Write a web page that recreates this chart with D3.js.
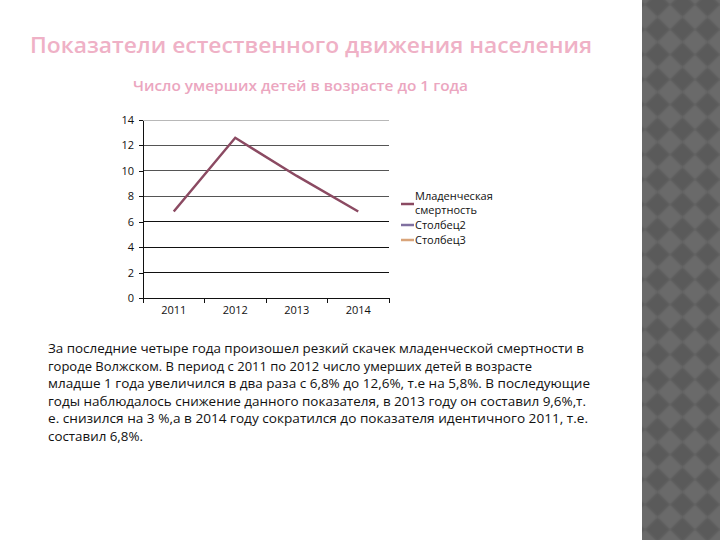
<!DOCTYPE html>
<html><head><meta charset="utf-8">
<script src="https://cdn.jsdelivr.net/npm/d3@7"></script>
<style>body{margin:0;background:#fff}svg{display:block}</style>
</head><body><svg id="c" width="720" height="540"></svg>
<script>
const title = "Показатели естественного движения населения";
const subtitle = "Число умерших детей в возрасте до 1 года";
const years = ["2011","2012","2013","2014"];
const mortality = [6.8, 12.6, 9.6, 6.8];
const yTicks = [0,2,4,6,8,10,12,14];
const legendNames = [["Младенческая","смертность"],["Столбец2"],["Столбец3"]];
const seriesColors = ["#8b4a62","#8070a0","#d9a47a"];
const paragraph = [
 "За последние четыре года произошел резкий скачек младенческой смертности в",
 "городе Волжском. В период с 2011 по 2012 число умерших детей в возрасте",
 "младше 1 года увеличился в два раза с 6,8% до 12,6%, т.е на 5,8%. В последующие",
 "годы наблюдалось снижение данного показателя, в 2013 году он составил 9,6%,т.",
 "е. снизился на 3 %,а в 2014 году сократился до показателя идентичного 2011, т.е.",
 "составил 6,8%."
];
const lineWidths = [536, 484, 542, 538, 540, 95];

const svg = d3.select("#c");
// right decorative strip
const defs = svg.append("defs");
const P = 25;
const pat = defs.append("pattern").attr("id","dia").attr("patternUnits","userSpaceOnUse")
  .attr("width",P).attr("height",P).attr("x",645).attr("y",-8);
pat.append("rect").attr("width",P).attr("height",P).attr("fill","#6b6b6b");
pat.append("path").attr("d",`M${P/2},0 L${P},${P/2} L${P/2},${P} L0,${P/2} Z`).attr("fill","#5a5a5a");
defs.append("filter").attr("id","soft").append("feGaussianBlur").attr("stdDeviation",0.8);
svg.append("rect").attr("x",638).attr("y",-4).attr("width",90).attr("height",548).attr("fill","url(#dia)")
  .attr("filter","url(#soft)");
svg.append("rect").attr("x",630).attr("y",0).attr("width",12).attr("height",540).attr("fill","#fff");

// titles
svg.append("text").attr("x",30).attr("y",53).text(title)
  .attr("font-family","Open Sans").attr("font-weight","600").attr("font-size",22)
  .attr("fill","#efb1c6").attr("textLength",562).attr("lengthAdjust","spacingAndGlyphs");
svg.append("text").attr("x",133).attr("y",91).text(subtitle)
  .attr("font-family","Open Sans").attr("font-weight","600").attr("font-size",14)
  .attr("fill","#eba6bf").attr("textLength",335).attr("lengthAdjust","spacingAndGlyphs");

// chart
const x = d3.scaleBand().domain(years).range([143,389]);
const y = d3.scaleLinear().domain([0,14]).range([298,120]);
const g = svg.append("g");
const gridColor = v => v===14 ? "#b8b8b8" : (v>=8 ? "#555" : "#111");
g.selectAll("line.grid").data(yTicks.filter(v=>v>0)).join("line")
  .attr("x1",143).attr("x2",389).attr("y1",d=>y(d)).attr("y2",d=>y(d))
  .attr("stroke",d=>gridColor(d)).attr("stroke-width",1).attr("shape-rendering","crispEdges");

const yAxis = g.append("g").attr("transform","translate(143,0)")
  .call(d3.axisLeft(y).tickValues(yTicks).tickSize(4).tickPadding(5).tickSizeOuter(0));
const xAxis = g.append("g").attr("transform","translate(0,298)")
  .call(d3.axisBottom(x).tickSize(0).tickPadding(8));
g.selectAll("line.xt").data(d3.range(years.length+1)).join("line")
  .attr("x1",i=>143+i*x.step()).attr("x2",i=>143+i*x.step())
  .attr("y1",298).attr("y2",303).attr("stroke","#111").attr("shape-rendering","crispEdges");
[yAxis,xAxis].forEach(a=>{
  a.selectAll("text").attr("font-family","Open Sans").attr("font-size",11).attr("fill","#111");
  a.selectAll("path,line").attr("stroke","#111").attr("shape-rendering","crispEdges");
});

const line = d3.line().x((d,i)=>x(years[i])+x.bandwidth()/2).y(d=>y(d));
g.append("path").datum(mortality).attr("d",line).attr("fill","none")
  .attr("stroke",seriesColors[0]).attr("stroke-width",2.5).attr("stroke-linejoin","miter");

// legend
const legY = [204,225,240];
const lg = svg.append("g");
legendNames.forEach((names,i)=>{
  lg.append("line").attr("x1",401).attr("x2",414).attr("y1",legY[i]).attr("y2",legY[i])
    .attr("stroke",seriesColors[i]).attr("stroke-width",2.5);
  names.forEach((n,j)=>{
    lg.append("text").attr("x",415).attr("y",(i===0?200+j*13.5:legY[i]+4)).text(n)
      .attr("font-family","Open Sans").attr("font-size",11).attr("fill","#111");
  });
});

// paragraph
paragraph.forEach((t,i)=>{
  svg.append("text").attr("x",48).attr("y",353+i*17.5).text(t)
    .attr("font-family","Open Sans").attr("font-size",13.5).attr("fill","#111")
    .attr("textLength",lineWidths[i]).attr("lengthAdjust","spacingAndGlyphs");
});
</script></body></html>
